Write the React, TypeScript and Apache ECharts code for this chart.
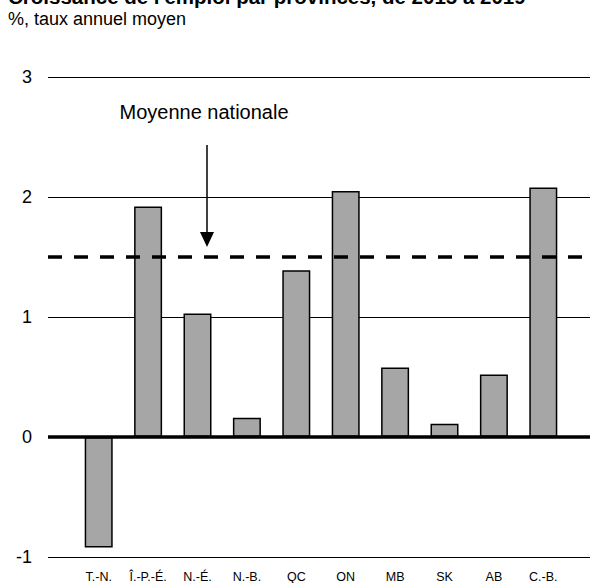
import React, { useEffect, useRef } from "react";
import * as echarts from "echarts";

const categories = ["T.-N.", "Î.-P.-É.", "N.-É.", "N.-B.", "QC", "ON", "MB", "SK", "AB", "C.-B."];
const growth = [-0.92, 1.92, 1.03, 0.16, 1.39, 2.05, 0.58, 0.11, 0.52, 2.08];
const nationalAverage = 1.5;
const yTicks = { min: -1, max: 3, interval: 1 };
const titleText = "Croissance de l'emploi par provinces, de 2015 à 2019";
const subtitleText = "%, taux annuel moyen";
const annotationText = "Moyenne nationale";

const FONT = 'Arial, "Liberation Sans", sans-serif';

export default function App() {
  const ref = useRef<HTMLDivElement>(null);
  useEffect(() => {
    if (!ref.current) return;
    const chart = echarts.init(ref.current, undefined, { renderer: "svg" });
    chart.setOption({
      animation: false,
      backgroundColor: "#ffffff",
      textStyle: { fontFamily: FONT },
      grid: [
        { left: 74, right: 22, top: 77, height: 480, containLabel: false },
        { left: 48, right: 0, top: 77, height: 480, containLabel: false },
      ],
      xAxis: [
        {
          type: "category",
          gridIndex: 0,
          data: categories,
          position: "bottom",
          axisLine: { show: false, onZero: false },
          axisTick: { show: false },
          axisLabel: { color: "#000", fontSize: 12.5, fontFamily: FONT, margin: 13, interval: 0 },
          splitLine: { show: false },
        },
        {
          type: "value",
          gridIndex: 1,
          min: 0,
          max: 1,
          show: false,
        },
      ],
      yAxis: [
        {
          type: "value",
          gridIndex: 0,
          min: yTicks.min,
          max: yTicks.max,
          interval: yTicks.interval,
          show: false,
        },
        {
          type: "value",
          gridIndex: 1,
          min: yTicks.min,
          max: yTicks.max,
          interval: yTicks.interval,
          axisLine: { show: false },
          axisTick: { show: false },
          axisLabel: { color: "#000", fontSize: 18, fontFamily: FONT, margin: 16 },
          splitLine: { show: true, lineStyle: { color: "#000", width: 1.2 } },
        },
      ],
      series: [
        {
          type: "bar",
          xAxisIndex: 0,
          yAxisIndex: 0,
          data: growth,
          barWidth: 28,
          itemStyle: { color: "#a6a6a6", borderColor: "#000", borderWidth: 1.5 },
          z: 3,
        },
        {
          type: "line",
          xAxisIndex: 1,
          yAxisIndex: 1,
          data: [],
          z: 5,
          markLine: {
            silent: true,
            symbol: ["none", "none"],
            label: { show: false },
            data: [
              { yAxis: 0, lineStyle: { color: "#000", width: 3.5, type: "solid" } },
              { yAxis: nationalAverage, lineStyle: { color: "#000", width: 3.5, type: [14, 12] } },
            ],
          },
        },
      ],
      graphic: [
        {
          type: "text",
          left: 8,
          top: -14,
          style: { text: titleText, font: `bold 20.5px ${FONT}`, fill: "#000" },
        },
        {
          type: "text",
          left: 8,
          top: 10,
          style: { text: subtitleText, font: `18px ${FONT}`, fill: "#000" },
        },
        {
          type: "text",
          x: 204,
          y: 112,
          style: {
            text: annotationText,
            font: `20px ${FONT}`,
            fill: "#000",
            align: "center",
            verticalAlign: "middle",
          },
        },
        {
          type: "line",
          shape: { x1: 207, y1: 145, x2: 207, y2: 235 },
          style: { stroke: "#000", lineWidth: 1.5 },
          z: 10,
        },
        {
          type: "polygon",
          shape: { points: [[200, 232], [214, 232], [207, 247]] },
          style: { fill: "#000" },
          z: 10,
        },
      ],
    });
    return () => chart.dispose();
  }, []);
  return (
    <div
      ref={ref}
      style={{ position: "absolute", left: 0, top: 0, width: 590, height: 583 }}
    />
  );
}
